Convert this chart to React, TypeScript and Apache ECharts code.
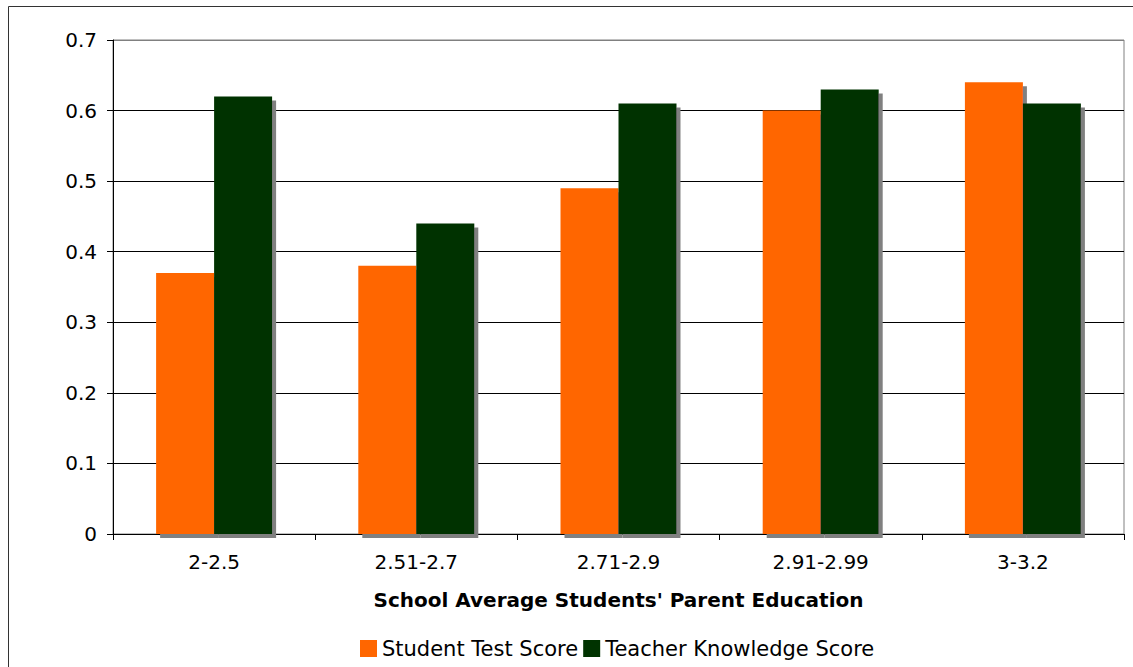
import React, { useEffect, useRef } from "react";
import * as echarts from "echarts";

const categories = ["2-2.5", "2.51-2.7", "2.71-2.9", "2.91-2.99", "3-3.2"];
const studentTestScore = [0.37, 0.38, 0.49, 0.6, 0.64];
const teacherKnowledgeScore = [0.62, 0.44, 0.61, 0.63, 0.61];
const seriesNames = ["Student Test Score", "Teacher Knowledge Score"];
const xAxisTitle = "School Average Students' Parent Education";

const FONT = "'DejaVu Sans', Verdana, sans-serif";

export default function App() {
  const ref = useRef<HTMLDivElement>(null);
  useEffect(() => {
    if (!ref.current) return;
    const chart = echarts.init(ref.current, undefined, { renderer: "svg" });
    const shadow = {
      shadowColor: "#808080",
      shadowOffsetX: 4,
      shadowOffsetY: 4,
      shadowBlur: 0,
    };
    chart.setOption({
      animation: false,
      backgroundColor: "#ffffff",
      textStyle: { fontFamily: FONT },
      graphic: [
        {
          type: "rect",
          shape: { x: 8.5, y: 6.5, width: 1300, height: 800 },
          style: { fill: "none", stroke: "#333333", lineWidth: 1 },
          silent: true,
          z: -10,
        },
      ],
      grid: {
        left: 113,
        top: 40,
        right: 9,
        bottom: 133,
        show: true,
        borderColor: "#808080",
        borderWidth: 1,
        backgroundColor: "transparent",
      },
      legend: {
        data: seriesNames,
        top: 638,
        left: 360,
        padding: 0,
        itemWidth: 17,
        itemHeight: 17,
        itemGap: 5,
        icon: "rect",
        textStyle: { fontSize: 21, color: "#000", fontFamily: FONT },
      },
      xAxis: {
        type: "category",
        data: categories,
        name: xAxisTitle,
        nameLocation: "middle",
        nameGap: 56,
        nameTextStyle: { fontSize: 20, fontWeight: "bold", color: "#000", fontFamily: FONT },
        axisLine: { lineStyle: { color: "#000", width: 1 } },
        axisTick: { show: true, length: 6, lineStyle: { color: "#000" }, alignWithLabel: false },
        axisLabel: { fontSize: 20, color: "#000", margin: 18, fontFamily: FONT },
        splitLine: { show: false },
      },
      yAxis: {
        type: "value",
        min: 0,
        max: 0.7,
        interval: 0.1,
        axisLine: { show: true, lineStyle: { color: "#000", width: 1 } },
        axisTick: { show: true, length: 6, lineStyle: { color: "#000" } },
        axisLabel: { fontSize: 20, color: "#000", margin: 16, fontFamily: FONT },
        splitLine: {
          show: true,
          lineStyle: {
            color: ["#000", "#000", "#000", "#000", "#000", "#000", "#000", "#808080"],
            width: 1,
          },
        },
      },
      series: [
        {
          name: seriesNames[0],
          type: "bar",
          data: studentTestScore,
          barWidth: 58,
          barGap: "0%",
          itemStyle: { color: "#FF6600", ...shadow },
        },
        {
          name: seriesNames[1],
          type: "bar",
          data: teacherKnowledgeScore,
          barWidth: 58,
          barGap: "0%",
          itemStyle: { color: "#003300", ...shadow },
        },
      ],
    });
    return () => chart.dispose();
  }, []);
  return (
    <div
      ref={ref}
      style={{ position: "fixed", left: 0, top: 0, width: 1133, height: 667 }}
    />
  );
}
